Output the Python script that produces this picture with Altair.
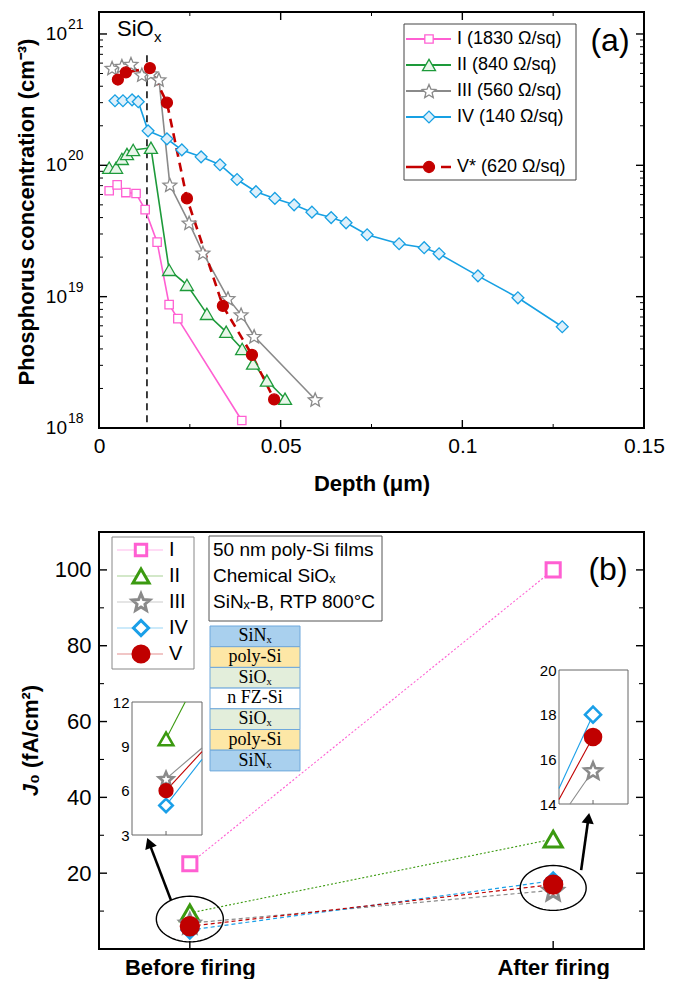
import math
import altair as alt
import pandas as pd

FONT = "Liberation Sans"
SERIF = "Liberation Serif"

# ====================== DATA ======================
series = ["I", "II", "III", "IV", "V"]
legend_a = ["I (1830 Ω/sq)", "II (840 Ω/sq)", "III (560 Ω/sq)", "IV (140 Ω/sq)", "V* (620 Ω/sq)"]

depth_I = [0.0028, 0.0050, 0.0074, 0.0102, 0.0127, 0.0160, 0.0193, 0.0217, 0.0393]
conc_I = [6.4e19, 7.1e19, 6.2e19, 6.1e19, 4.6e19, 2.6e19, 8.7e18, 6.8e18, 1.14e18]

depth_II = [0.0028, 0.0047, 0.0063, 0.0077, 0.0094, 0.0143, 0.0193, 0.0242, 0.0297,
            0.0350, 0.0394, 0.0424, 0.0462, 0.0512]
conc_II = [9.6e19, 9.6e19, 1.12e20, 1.22e20, 1.31e20, 1.36e20, 1.6e19, 1.23e19, 7.4e18,
           5.4e18, 4.0e18, 3.1e18, 2.3e18, 1.67e18]

depth_III = [0.0036, 0.0063, 0.0088, 0.0118, 0.0143, 0.0165, 0.0195, 0.0248, 0.0286,
             0.0355, 0.0391, 0.0427, 0.0595]
conc_III = [5.5e20, 5.7e20, 5.9e20, 4.9e20, 5.0e20, 4.5e20, 7.1e19, 3.65e19, 2.16e19,
            9.7e18, 7.3e18, 5.0e18, 1.65e18]

depth_IV = [0.0044, 0.0066, 0.0091, 0.0108, 0.0135, 0.0187, 0.0228, 0.0281, 0.0333,
            0.0380, 0.0432, 0.0484, 0.0537, 0.0586, 0.0639, 0.0680, 0.0738, 0.0826,
            0.0895, 0.0936, 0.1043, 0.1153, 0.1275]
conc_IV = [3.1e20, 3.1e20, 3.15e20, 3.05e20, 1.83e20, 1.59e20, 1.31e20, 1.16e20, 1.01e20,
           7.8e19, 6.3e19, 5.6e19, 5.0e19, 4.4e19, 4.0e19, 3.65e19, 2.96e19, 2.53e19,
           2.36e19, 2.12e19, 1.44e19, 9.8e18, 5.9e18]

depth_V = [0.0052, 0.0074, 0.0140, 0.0187, 0.0242, 0.0341, 0.0421, 0.0482]
conc_V = [4.5e20, 5.1e20, 5.5e20, 3.0e20, 5.6e19, 8.5e18, 3.6e18, 1.65e18]

siox_depth = 0.0132
x_major_a = [0, 0.05, 0.1, 0.15]
x_minor_a = [0.025, 0.075, 0.125]
decades = [1e18, 1e19, 1e20, 1e21]
decade_exp = ["18", "19", "20", "21"]

firing = ["Before firing", "After firing"]
j0_before = [22.5, 9.5, 6.8, 5.0, 6.0]
j0_after = [100.0, 29.0, 15.5, 18.0, 17.0]
y_major_b = [20, 40, 60, 80, 100]
y_minor_b = [10, 30, 50, 70, 90]
inset_before_ticks = [3, 6, 9, 12]
inset_after_ticks = [14, 16, 18, 20]
note_lines = ["50 nm poly-Si films", "Chemical SiOₓ", "SiNₓ-B, RTP 800°C"]
stack_layers = ["SiNₓ", "poly-Si", "SiOₓ", "n FZ-Si", "SiOₓ", "poly-Si", "SiNₓ"]

# ====================== STYLE ======================
def star_path(n=5, inner=0.45):
    pts = []
    for k in range(2 * n):
        r = 1.0 if k % 2 == 0 else inner
        a = -math.pi / 2 + k * math.pi / n
        pts.append(f"{r * math.cos(a):.3f},{r * math.sin(a) + 0.1:.3f}")
    return "M" + "L".join(pts) + "Z"


def ellipse_path(ry=0.68, n=60):
    pts = []
    for k in range(n):
        a = 2 * math.pi * k / n
        pts.append(f"{math.cos(a):.3f},{ry * math.sin(a):.3f}")
    return "M" + "L".join(pts) + "Z"


STAR = star_path()
ELLIPSE = ellipse_path()
SHAPE = {"I": "square", "II": "triangle-up", "III": STAR, "IV": "diamond", "V": "circle"}
A_STROKE = {"I": "#ff5fd2", "II": "#1d9a3a", "III": "#8a8a8a", "IV": "#17a0e3", "V": "#c40000"}
A_FILL = {"I": "#ffffff", "II": "#e9f6ea", "III": "#ffffff", "IV": "#def0fb", "V": "#c40000"}
A_SIZE = {"I": 70, "II": 170, "III": 210, "IV": 140, "V": 120}
B_STROKE = {"I": "#ff5fd2", "II": "#3b9a10", "III": "#8a8a8a", "IV": "#1a9fe8", "V": "#c00000"}
B_FILL = {"I": "#ffffff", "II": "#ffffff", "III": "#ffffff", "IV": "#ffffff", "V": "#c00000"}
B_SIZE = {"I": 200, "II": 330, "III": 420, "IV": 256, "V": 300}
B_LEG_SIZE = {"I": 130, "II": 260, "III": 340, "IV": 230, "V": 260}
INSET_SIZE = {"II": 210, "III": 230, "IV": 180, "V": 160}
INSET2_SIZE = {"III": 320, "IV": 256, "V": 256}
STACK_FILL = {"SiNₓ": "#a9d0ee", "poly-Si": "#fde7a6", "SiOₓ": "#e3eedb", "n FZ-Si": "#ffffff"}

one = pd.DataFrame({"k": [0]})

# ====================== PANEL (a) ======================
W_A, H_A = 545, 416
xa = alt.Scale(domain=[0, 0.15], nice=False, zero=False)
ya = alt.Scale(type="log", domain=[1e18, 1.47e21], nice=False)
AX_XA = alt.Axis(values=x_major_a, format=".2~f", title="Depth (μm)", ticks=False, domain=False,
                 grid=False, labelFontSize=21, labelPadding=7, labelFlush=False,
                 titleFontSize=22, titleFontWeight="bold", titlePadding=17)


def XA(field):
    return alt.X(field, scale=xa, axis=AX_XA)


def YA(field):
    return alt.Y(field, scale=ya, axis=None)


rows = []
for s, ds, cs in zip(series, [depth_I, depth_II, depth_III, depth_IV, depth_V],
                     [conc_I, conc_II, conc_III, conc_IV, conc_V]):
    for d, c in zip(ds, cs):
        rows.append({"s": s, "depth": d, "conc": c, "stroke": A_STROKE[s],
                     "fill": A_FILL[s], "shape": SHAPE[s], "size": A_SIZE[s]})
df_a = pd.DataFrame(rows)

base_a = alt.Chart(df_a)
lines_a = base_a.transform_filter(alt.datum.s != "V").mark_line(strokeWidth=1.6).encode(
    x=XA("depth:Q"), y=YA("conc:Q"),
    color=alt.Color("stroke:N", scale=None), detail="s:N", order="depth:Q")
line_v = base_a.transform_filter(alt.datum.s == "V").mark_line(strokeWidth=2.6, strokeDash=[9, 6]).encode(
    x=XA("depth:Q"), y=YA("conc:Q"),
    color=alt.Color("stroke:N", scale=None), order="depth:Q")
pts_a = base_a.mark_point(filled=True, strokeWidth=1.3, opacity=1).encode(
    x=XA("depth:Q"), y=YA("conc:Q"),
    shape=alt.Shape("shape:N", scale=None), fill=alt.Fill("fill:N", scale=None),
    stroke=alt.Stroke("stroke:N", scale=None), size=alt.Size("size:Q", scale=None))

siox_line = alt.Chart(pd.DataFrame({"x": [siox_depth], "y0": [6.9e20], "y1": [1e18]})).mark_rule(
    color="black", strokeWidth=1.5, strokeDash=[7, 5]).encode(
    x=XA("x:Q"), y=YA("y0:Q"), y2="y1:Q")


def yticks(values, ych, x0, x1, w=1.4):
    return alt.Chart(pd.DataFrame({"v": values})).mark_rule(color="black", strokeWidth=w).encode(
        y=ych("v:Q"), x=alt.value(x0), x2=alt.value(x1))


def xticks(values, xch, y0, y1, w=1.4):
    return alt.Chart(pd.DataFrame({"v": values})).mark_rule(color="black", strokeWidth=w).encode(
        x=xch("v:Q"), y=alt.value(y0), y2=alt.value(y1))


minor_log = [k * 10 ** e for e in (18, 19, 20) for k in range(2, 10)]
ticks_a = [
    yticks(decades, YA, 0, 8), yticks(minor_log, YA, 0, 4, 1),
    yticks(decades, YA, W_A, W_A - 8), yticks(minor_log, YA, W_A, W_A - 4, 1),
    xticks(x_major_a, XA, H_A, H_A - 8), xticks(x_minor_a, XA, H_A, H_A - 4, 1),
    xticks(x_major_a, XA, 0, 8), xticks(x_minor_a, XA, 0, 4, 1),
]

df_dec = pd.DataFrame({"v": decades, "e": decade_exp})
dec_base = alt.Chart(df_dec).mark_text(align="right", baseline="middle", fontSize=19, color="black").encode(
    y=YA("v:Q"), x=alt.value(-32), text=alt.value("10"))
dec_exp = alt.Chart(df_dec).mark_text(align="left", baseline="middle", fontSize=14, dy=-9, color="black").encode(
    y=YA("v:Q"), x=alt.value(-31), text="e:N")

ytitle_a = alt.Chart(one).mark_text(angle=270, align="center", baseline="middle", fontSize=22,
                                    fontWeight="bold", color="black").encode(
    x=alt.value(-72), y=alt.value(200), text=alt.value("Phosphorus concentration (cm⁻³)"))

siox_t = alt.Chart(one).mark_text(align="left", baseline="middle", fontSize=22, color="black").encode(
    x=alt.value(18), y=alt.value(17), text=alt.value("SiO"))
siox_x = alt.Chart(one).mark_text(align="left", baseline="middle", fontSize=15, color="black").encode(
    x=alt.value(55), y=alt.value(25), text=alt.value("x"))

leg_rows = []
for i, (s, lab) in enumerate(zip(series, legend_a)):
    ly = 27 + 26 * i if i < 4 else 155
    leg_rows.append({"s": s, "lab": lab, "ly": ly, "stroke": A_STROKE[s], "fill": A_FILL[s],
                     "shape": SHAPE[s], "size": A_SIZE[s]})
df_leg_a = pd.DataFrame(leg_rows)
leg_box_a = alt.Chart(one).mark_rect(fill="white", stroke="#444", strokeWidth=1).encode(
    x=alt.value(305), x2=alt.value(477), y=alt.value(12), y2=alt.value(168))
leg_line_a = alt.Chart(df_leg_a).transform_filter(alt.datum.s != "V").mark_rule(strokeWidth=1.8).encode(
    x=alt.value(307), x2=alt.value(352), y=alt.Y("ly:Q", scale=None),
    color=alt.Color("stroke:N", scale=None))
leg_line_v = alt.Chart(df_leg_a).transform_filter(alt.datum.s == "V").mark_rule(
    strokeWidth=2.6, strokeDash=[29, 6, 10, 200]).encode(
    x=alt.value(307), x2=alt.value(352), y=alt.Y("ly:Q", scale=None),
    color=alt.Color("stroke:N", scale=None))
leg_pts_a = alt.Chart(df_leg_a).mark_point(filled=True, strokeWidth=1.3, opacity=1).encode(
    x=alt.value(330), y=alt.Y("ly:Q", scale=None),
    shape=alt.Shape("shape:N", scale=None), fill=alt.Fill("fill:N", scale=None),
    stroke=alt.Stroke("stroke:N", scale=None), size=alt.Size("size:Q", scale=None))
leg_txt_a = alt.Chart(df_leg_a).mark_text(align="left", baseline="middle", fontSize=18, color="black").encode(
    x=alt.value(358), y=alt.Y("ly:Q", scale=None), text="lab:N")
tag_a = alt.Chart(one).mark_text(align="center", baseline="middle", fontSize=32, color="black").encode(
    x=alt.value(511), y=alt.value(29), text=alt.value("(a)"))

panel_a = alt.layer(
    siox_line, lines_a, line_v, pts_a, *ticks_a, dec_base, dec_exp, ytitle_a, siox_t, siox_x,
    leg_box_a, leg_line_a, leg_line_v, leg_pts_a, leg_txt_a, tag_a
).properties(width=W_A, height=H_A)

# ====================== PANEL (b) ======================
W_B, H_B = 545, 417
xb = alt.Scale(domain=[-0.25, 1.25], nice=False, zero=False)
yb = alt.Scale(domain=[0, 110], nice=False, zero=False)
label_expr = f"datum.value == 0 ? '{firing[0]}' : '{firing[1]}'"
AX_XB = alt.Axis(values=[0, 1], labelExpr=label_expr, ticks=False, domain=False, grid=False,
                 labelFontSize=22, labelFontWeight="bold", labelPadding=8, labelFlush=False, title=None)
AX_YB = alt.Axis(values=y_major_b, ticks=False, domain=False, grid=False, labelFontSize=22,
                 labelPadding=8, title=None)


def XB(field):
    return alt.X(field, scale=xb, axis=AX_XB)


def YB(field):
    return alt.Y(field, scale=yb, axis=AX_YB)


rows = []
for i, s in enumerate(series):
    for ph, v in ((0, j0_before[i]), (1, j0_after[i])):
        rows.append({"s": s, "phase": ph, "j0": v, "stroke": B_STROKE[s], "fill": B_FILL[s],
                     "shape": SHAPE[s], "size": B_SIZE[s]})
df_b = pd.DataFrame(rows)

base_b = alt.Chart(df_b)
dotted_b = base_b.transform_filter(alt.FieldOneOfPredicate(field="s", oneOf=["I", "II"])).mark_line(
    strokeWidth=1.1, strokeDash=[2, 2]).encode(
    x=XB("phase:Q"), y=YB("j0:Q"), color=alt.Color("stroke:N", scale=None), detail="s:N")
dashed_b = base_b.transform_filter(alt.FieldOneOfPredicate(field="s", oneOf=["III", "IV", "V"])).mark_line(
    strokeWidth=1.2, strokeDash=[4, 3]).encode(
    x=XB("phase:Q"), y=YB("j0:Q"), color=alt.Color("stroke:N", scale=None), detail="s:N")
pts_b = base_b.mark_point(filled=True, strokeWidth=3, opacity=1).encode(
    x=XB("phase:Q"), y=YB("j0:Q"),
    shape=alt.Shape("shape:N", scale=None), fill=alt.Fill("fill:N", scale=None),
    stroke=alt.Stroke("stroke:N", scale=None), size=alt.Size("size:Q", scale=None))

# annotations: ellipses around the clusters, arrows towards the zoomed insets
df_ell = pd.DataFrame({"x": [0, 1], "y": [7.9, 16.1], "sz": [67 ** 2, 66 ** 2]})
ell_b = alt.Chart(df_ell).mark_point(shape=ELLIPSE, filled=False, color="black", strokeWidth=1.4,
                                     opacity=1).encode(
    x=XB("x:Q"), y=YB("y:Q"), size=alt.Size("sz:Q", scale=None))
arrows = [(-0.052, 12.9, -0.112, 28.0), (1.077, 20.8, 1.097, 34.5)]
px_x = W_B / 1.5
px_y = H_B / 110.0
df_arr = pd.DataFrame([{"x0": a, "y0": b, "x1": c, "y1": d,
                        "ang": (math.degrees(math.atan2((c - a) * px_x, (d - b) * px_y)) + 360) % 360}
                       for a, b, c, d in arrows])
arr_line = alt.Chart(df_arr).mark_rule(color="black", strokeWidth=2.6).encode(
    x=XB("x0:Q"), y=YB("y0:Q"), x2="x1:Q", y2="y1:Q")
arr_head = alt.Chart(df_arr).mark_point(shape="triangle-up", filled=True, color="black", size=150,
                                        opacity=1).encode(
    x=XB("x1:Q"), y=YB("y1:Q"), angle=alt.Angle("ang:Q", scale=None))

ticks_b = [
    yticks(y_major_b, YB, 0, 8), yticks(y_minor_b, YB, 0, 5, 1.1),
    yticks(y_major_b, YB, W_B, W_B - 8), yticks(y_minor_b, YB, W_B, W_B - 5, 1.1),
    xticks([0, 1], XB, H_B, H_B - 8),
]

ytitle_J = alt.Chart(one).mark_text(angle=270, align="right", baseline="middle", fontSize=22,
                                    fontWeight="bold", fontStyle="italic", color="black").encode(
    x=alt.value(-68), y=alt.value(252), text=alt.value("J"))
ytitle_rest = alt.Chart(one).mark_text(angle=270, align="left", baseline="middle", fontSize=22,
                                       fontWeight="bold", color="black").encode(
    x=alt.value(-68), y=alt.value(252), text=alt.value("₀ (fA/cm²)"))

# legend (b)
leg_b_rows = [{"s": s, "ly": 18 + 26 * i, "stroke": B_STROKE[s], "fill": B_FILL[s],
               "shape": SHAPE[s], "size": B_LEG_SIZE[s]} for i, s in enumerate(series)]
df_leg_b = pd.DataFrame(leg_b_rows)
leg_box_b = alt.Chart(one).mark_rect(fill="white", stroke="#888", strokeWidth=1).encode(
    x=alt.value(13), x2=alt.value(95), y=alt.value(5), y2=alt.value(137))
leg_line_b = alt.Chart(df_leg_b).mark_rule(strokeWidth=1, opacity=0.45).encode(
    x=alt.value(18), x2=alt.value(64), y=alt.Y("ly:Q", scale=None),
    color=alt.Color("stroke:N", scale=None))
leg_pts_b = alt.Chart(df_leg_b).mark_point(filled=True, strokeWidth=3, opacity=1).encode(
    x=alt.value(42), y=alt.Y("ly:Q", scale=None),
    shape=alt.Shape("shape:N", scale=None), fill=alt.Fill("fill:N", scale=None),
    stroke=alt.Stroke("stroke:N", scale=None), size=alt.Size("size:Q", scale=None))
leg_txt_b = alt.Chart(df_leg_b).mark_text(align="left", baseline="middle", fontSize=20, color="black").encode(
    x=alt.value(70), y=alt.Y("ly:Q", scale=None), text="s:N")

# note box
note_box = alt.Chart(one).mark_rect(fill="white", stroke="#555", strokeWidth=1).encode(
    x=alt.value(110), x2=alt.value(283), y=alt.value(4), y2=alt.value(89))
df_note = pd.DataFrame({"t": note_lines, "ly": [18 + 26 * i for i in range(len(note_lines))]})
note_txt = alt.Chart(df_note).mark_text(align="left", baseline="middle", fontSize=19, color="black").encode(
    x=alt.value(114), y=alt.Y("ly:Q", scale=None), text="t:N")

# layer stack sketch
row_h = 20.7
df_stack = pd.DataFrame({"t": stack_layers,
                         "y0": [94 + row_h * i for i in range(len(stack_layers))],
                         "y1": [94 + row_h * (i + 1) for i in range(len(stack_layers))],
                         "yc": [94 + row_h * (i + 0.5) for i in range(len(stack_layers))],
                         "fill": [STACK_FILL[t] for t in stack_layers]})
stack_rect = alt.Chart(df_stack).mark_rect(stroke="#6fa8dc", strokeWidth=1).encode(
    x=alt.value(111), x2=alt.value(201), y=alt.Y("y0:Q", scale=None), y2="y1:Q",
    fill=alt.Fill("fill:N", scale=None))
stack_txt = alt.Chart(df_stack).mark_text(align="center", baseline="middle", fontSize=18, font=SERIF,
                                          color="black").encode(
    x=alt.value(156), y=alt.Y("yc:Q", scale=None), text="t:N")

tag_b = alt.Chart(one).mark_text(align="center", baseline="middle", fontSize=32, color="black").encode(
    x=alt.value(509), y=alt.value(38), text=alt.value("(b)"))

main_b = alt.layer(
    dotted_b, dashed_b, ell_b, arr_line, arr_head, pts_b, *ticks_b, ytitle_J, ytitle_rest,
    leg_box_b, leg_line_b, leg_pts_b, leg_txt_b, note_box, note_txt, stack_rect, stack_txt, tag_b)


def clip_segment(b, a, x0, x1, y0, y1):
    """Part of the straight line from (0, b) to (1, a) that lies inside the zoom box."""
    dy = a - b
    t0, t1 = 0.0, 1.0
    for p, q in ((-1.0, 0 - x0), (1.0, x1 - 0), (-dy, b - y0), (dy, y1 - b)):
        if p == 0:
            if q < 0:
                return None
        else:
            r = q / p
            if p < 0:
                t0 = max(t0, r)
            else:
                t1 = min(t1, r)
    if t0 > t1:
        return None
    return t0, b + dy * t0, t1, b + dy * t1


def inset(phase, xdom, ydom, xr, yr, ticks, sizes):
    sx = alt.Scale(domain=xdom, range=xr, nice=False, zero=False)
    sy = alt.Scale(domain=ydom, range=yr, nice=False, zero=False)
    ax = alt.Axis(orient="left", offset=-xr[0], values=ticks, ticks=False, domain=False, grid=False,
                  labelFontSize=15, labelPadding=3, title=None)

    def IX(field):
        return alt.X(field, scale=sx, axis=None)

    def IY(field):
        return alt.Y(field, scale=sy, axis=ax)

    frame = alt.Chart(pd.DataFrame({"x0": [xdom[0]], "x1": [xdom[1]], "y0": [ydom[0]], "y1": [ydom[1]]})
                      ).mark_rect(fill="white", stroke="#666", strokeWidth=1).encode(
        x=IX("x0:Q"), x2="x1:Q", y=IY("y0:Q"), y2="y1:Q")
    segs, pts = [], []
    for i, s in enumerate(series):
        c = clip_segment(j0_before[i], j0_after[i], xdom[0], xdom[1], ydom[0], ydom[1])
        if c:
            segs.append({"x0": c[0], "y0": c[1], "x1": c[2], "y1": c[3], "stroke": B_STROKE[s]})
        v = j0_before[i] if phase == 0 else j0_after[i]
        if ydom[0] <= v <= ydom[1]:
            pts.append({"s": s, "x": phase, "y": v, "stroke": B_STROKE[s], "fill": B_FILL[s],
                        "shape": SHAPE[s], "size": sizes[s]})
    seg_l = alt.Chart(pd.DataFrame(segs)).mark_rule(strokeWidth=1.1).encode(
        x=IX("x0:Q"), y=IY("y0:Q"), x2="x1:Q", y2="y1:Q", color=alt.Color("stroke:N", scale=None))
    pt_l = alt.Chart(pd.DataFrame(pts)).mark_point(filled=True, strokeWidth=2.6, opacity=1).encode(
        x=IX("x:Q"), y=IY("y:Q"),
        shape=alt.Shape("shape:N", scale=None), fill=alt.Fill("fill:N", scale=None),
        stroke=alt.Stroke("stroke:N", scale=None), size=alt.Size("size:Q", scale=None))
    tick_l = alt.Chart(pd.DataFrame({"v": [phase]})).mark_rule(color="#666", strokeWidth=1).encode(
        x=IX("v:Q"), y=alt.value(yr[0]), y2=alt.value(yr[0] - 4))
    return alt.layer(frame, seg_l, pt_l, tick_l)


inset_before = inset(0, [-0.227, 0.24], [3, 12], [33, 103], [303, 170], inset_before_ticks, INSET_SIZE)
inset_after = inset(1, [0.746, 1.261], [14, 20], [460, 529], [272, 138], inset_after_ticks, INSET2_SIZE)

panel_b = alt.layer(main_b, inset_before, inset_after).resolve_scale(
    x="independent", y="independent").properties(width=W_B, height=H_B)

chart = alt.vconcat(panel_a, panel_b, spacing=36).properties(
    padding={"left": 14, "top": 10, "right": 5, "bottom": 0}
).configure(font=FONT).configure_view(stroke="black", strokeWidth=2).configure_axis(
    grid=False, labelColor="black", titleColor="black", labelFont=FONT, titleFont=FONT)

chart.save("out.html", embed_options={"renderer": "svg", "actions": False})
